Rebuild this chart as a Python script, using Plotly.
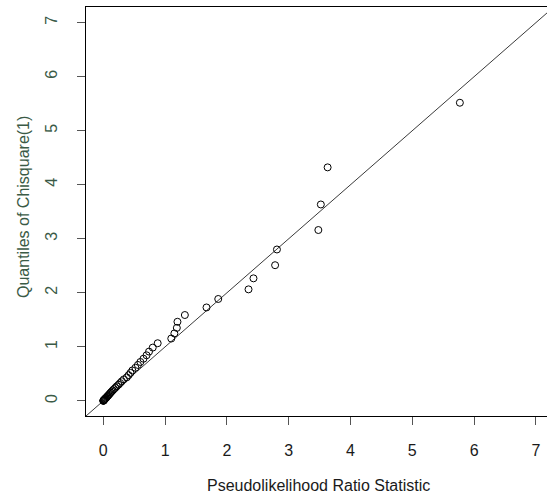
import plotly.graph_objects as go

# Pseudolikelihood ratio statistics (sorted) against chi-square(1) quantiles
plr_stat = [0.000, 0.001, 0.003, 0.006, 0.010, 0.015, 0.020, 0.027, 0.035, 0.044,
            0.055, 0.066, 0.078, 0.090, 0.104, 0.118, 0.134, 0.152, 0.172, 0.195,
            0.218, 0.246, 0.272, 0.300, 0.332, 0.380, 0.410, 0.440, 0.470, 0.520,
            0.560, 0.600, 0.650, 0.700, 0.740, 0.800, 0.880, 1.100, 1.150, 1.190,
            1.200, 1.320, 1.670, 1.860, 2.350, 2.430, 2.780, 2.810, 3.480, 3.520,
            3.630, 5.770]
chisq_q = [0.001, 0.002, 0.005, 0.009, 0.014, 0.020, 0.028, 0.036, 0.046, 0.057,
           0.069, 0.083, 0.098, 0.114, 0.132, 0.151, 0.171, 0.193, 0.217, 0.242,
           0.270, 0.299, 0.330, 0.363, 0.398, 0.435, 0.476, 0.518, 0.563, 0.613,
           0.665, 0.720, 0.780, 0.844, 0.912, 0.986, 1.067, 1.154, 1.248, 1.351,
           1.464, 1.589, 1.729, 1.886, 2.064, 2.268, 2.511, 2.802, 3.162, 3.635,
           4.322, 5.518]

# reference line y = x
ref_line = [-1, 8]
tick_vals = [0, 1, 2, 3, 4, 5, 6, 7]
tick_text = ["0", "1", "2", "3", "4", "5", "6", "7"]

font_family = "Liberation Sans, Arial, sans-serif"
x_text_color = "#1a1a1a"
y_text_color = "#3a5a46"

fig = go.Figure()
fig.add_trace(go.Scatter(
    x=ref_line, y=ref_line, mode="lines",
    line=dict(color="#3a3a3a", width=1), hoverinfo="skip", showlegend=False,
))
fig.add_trace(go.Scatter(
    x=plr_stat, y=chisq_q, mode="markers",
    marker=dict(symbol="circle-open", size=7, color="black", line=dict(width=1)),
    showlegend=False,
))

fig.update_layout(
    width=547, height=500,
    margin=dict(l=86, r=0, t=7, b=84),
    paper_bgcolor="white", plot_bgcolor="white",
    font=dict(family=font_family, size=16, color=x_text_color),
    xaxis=dict(
        range=[-0.28, 7.18], tickvals=tick_vals, ticktext=tick_text,
        showgrid=False, zeroline=False,
        showline=True, linecolor="black", linewidth=1, mirror=True,
        ticks="outside", ticklen=8, tickcolor="#555555", tickwidth=1,
        ticklabelstandoff=12,
        tickfont=dict(family=font_family, size=16, color=x_text_color),
    ),
    yaxis=dict(
        range=[-0.28, 7.29], tickvals=tick_vals, ticktext=tick_text,
        showgrid=False, zeroline=False,
        showline=True, linecolor="black", linewidth=1, mirror=False,
        ticks="outside", ticklen=8, tickcolor="#555555", tickwidth=1,
        tickangle=-90, ticklabelstandoff=14,
        tickfont=dict(family=font_family, size=16, color=y_text_color),
    ),
    annotations=[
        dict(text="Pseudolikelihood Ratio Statistic", xref="x", yref="paper",
             x=3.49, y=-0.171, xanchor="center", yanchor="middle", showarrow=False,
             font=dict(family=font_family, size=16, color=x_text_color)),
        dict(text="Quantiles of Chisquare(1)", xref="paper", yref="paper",
             x=-0.1367, y=0.511, xanchor="center", yanchor="middle", textangle=-90,
             showarrow=False,
             font=dict(family=font_family, size=16, color=y_text_color)),
    ],
)

fig.write_html("out.html")
